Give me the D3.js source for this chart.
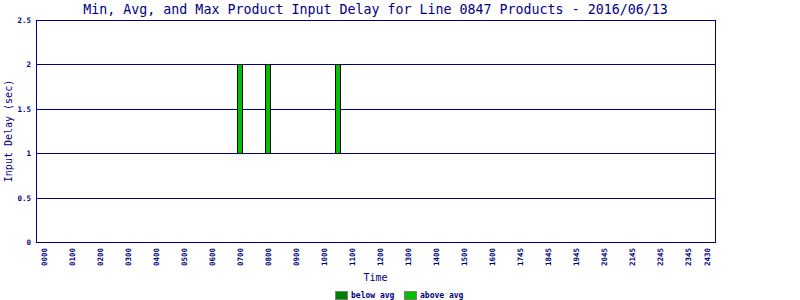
<!DOCTYPE html>
<html>
<head>
<meta charset="utf-8">
<script src="https://cdn.jsdelivr.net/npm/d3@7"></script>
<style>
  html, body { margin: 0; padding: 0; background: #fff; }
  svg { display: block; }
</style>
</head>
<body>
<svg id="chart" width="800" height="300"></svg>
<script>
// ---- data ----
const titleText = "Min, Avg, and Max Product Input Delay for Line 0847 Products - 2016/06/13";
const tickLabels = ["0000","0100","0200","0300","0400","0500","0600","0700","0800","0900",
  "1000","1100","1200","1300","1400","1500","1600","1745","1845","1945","2045","2145","2245","2345","2430"];
const tickHours = [0,1,2,3,4,5,6,7,8,9,10,11,12,13,14,15,16,17,18,19,20,21,22,23,23.7];
const barHours = [7, 8, 10.5];
const minVals = [1, 1, 1];
const avgVals = [1, 1, 1];
const maxVals = [2, 2, 2];
const yTicks = [0, 0.5, 1, 1.5, 2, 2.5];
const legendLabels = ["below avg", "above avg"];
const legendColors = ["#008000", "#00c000"];

(function () {
// ---- layout ----
const navy = "#000080";
const pL = 36, pR = 715, pT = 20, pB = 242;
const svg = d3.select("#chart");

const x = d3.scaleLinear().domain([0, 24]).range([43.5, 715.5]);
const y = d3.scaleLinear().domain([0, 2.5]).range([pB, pT]);

// gridlines
svg.append("g").selectAll("line").data(yTicks.filter(d => d > 0 && d < 2.5)).join("line")
  .attr("x1", pL).attr("x2", pR)
  .attr("y1", d => Math.round(y(d)) + 0.5).attr("y2", d => Math.round(y(d)) + 0.5)
  .attr("stroke", navy).attr("stroke-width", 1);

// frame
svg.append("rect").attr("x", pL + 0.5).attr("y", pT + 0.5)
  .attr("width", pR - pL).attr("height", pB - pT)
  .attr("fill", "none").attr("stroke", navy).attr("stroke-width", 1);

// bars: below avg segment (min->avg) and above avg segment (avg->max)
const bars = barHours.map((h, i) => ({h, min: minVals[i], avg: avgVals[i], max: maxVals[i]}));
const bw = 5;
const bg = svg.append("g");
bars.forEach(b => {
  const cx = Math.round(x(b.h));
  if (b.avg > b.min) {
    bg.append("rect").attr("x", cx - 2.5).attr("width", bw)
      .attr("y", Math.round(y(b.avg)) + 0.5).attr("height", Math.round(y(b.min)) - Math.round(y(b.avg)))
      .attr("fill", legendColors[0]).attr("stroke", "#000").attr("stroke-width", 1);
  }
  if (b.max > b.avg) {
    bg.append("rect").attr("x", cx - 2.5).attr("width", bw)
      .attr("y", Math.round(y(b.max)) + 0.5).attr("height", Math.round(y(b.avg)) - Math.round(y(b.max)))
      .attr("fill", legendColors[1]).attr("stroke", "#000").attr("stroke-width", 1);
  }
});

// y axis labels
const tickFont = "'DejaVu Sans Mono', monospace";
const yAxis = d3.axisLeft(y).tickValues(yTicks).tickSize(0).tickPadding(5)
  .tickFormat(d => d3.format("")(d));
const yg = svg.append("g").attr("transform", `translate(${pL},0)`).call(yAxis);
yg.select(".domain").remove();
yg.selectAll("text").attr("fill", navy).attr("font-family", tickFont)
  .attr("font-size", "7.5px").attr("font-weight", "bold");

// x axis labels (rotated)
const xAxis = d3.axisBottom(x).tickValues(tickHours).tickSize(0)
  .tickFormat((d, i) => tickLabels[i]);
const xg = svg.append("g").attr("transform", `translate(0,${pB})`).call(xAxis);
xg.select(".domain").remove();
xg.selectAll("text")
  .attr("fill", navy).attr("font-family", tickFont)
  .attr("font-size", "7.5px").attr("font-weight", "bold")
  .attr("transform", "rotate(-90)")
  .attr("text-anchor", "end")
  .attr("x", -6).attr("y", 0).attr("dy", "0.35em");

// title
svg.append("text").attr("x", (pL + pR) / 2).attr("y", 14)
  .attr("text-anchor", "middle").attr("fill", navy)
  .attr("font-family", tickFont).attr("font-size", "13.3px")
  .text(titleText);

// axis titles
svg.append("text").attr("x", (pL + pR) / 2).attr("y", 281)
  .attr("text-anchor", "middle").attr("fill", navy)
  .attr("font-family", tickFont).attr("font-size", "10px")
  .text("Time");
svg.append("text").attr("transform", `translate(12,${(pT + pB) / 2}) rotate(-90)`)
  .attr("text-anchor", "middle").attr("fill", navy)
  .attr("font-family", tickFont).attr("font-size", "10px")
  .text("Input Delay (sec)");

// legend
const legendX = [335, 404];
const lg = svg.append("g");
legendLabels.forEach((lab, i) => {
  lg.append("rect").attr("x", legendX[i] + 0.5).attr("y", 291.5).attr("width", 12).attr("height", 8)
    .attr("fill", legendColors[i]).attr("stroke", "#808080").attr("stroke-width", 1);
  lg.append("text").attr("x", legendX[i] + 16).attr("y", 298)
    .attr("fill", navy).attr("font-family", tickFont)
    .attr("font-size", "8px").attr("font-weight", "bold")
    .text(lab);
});
})();
</script>
</body>
</html>
